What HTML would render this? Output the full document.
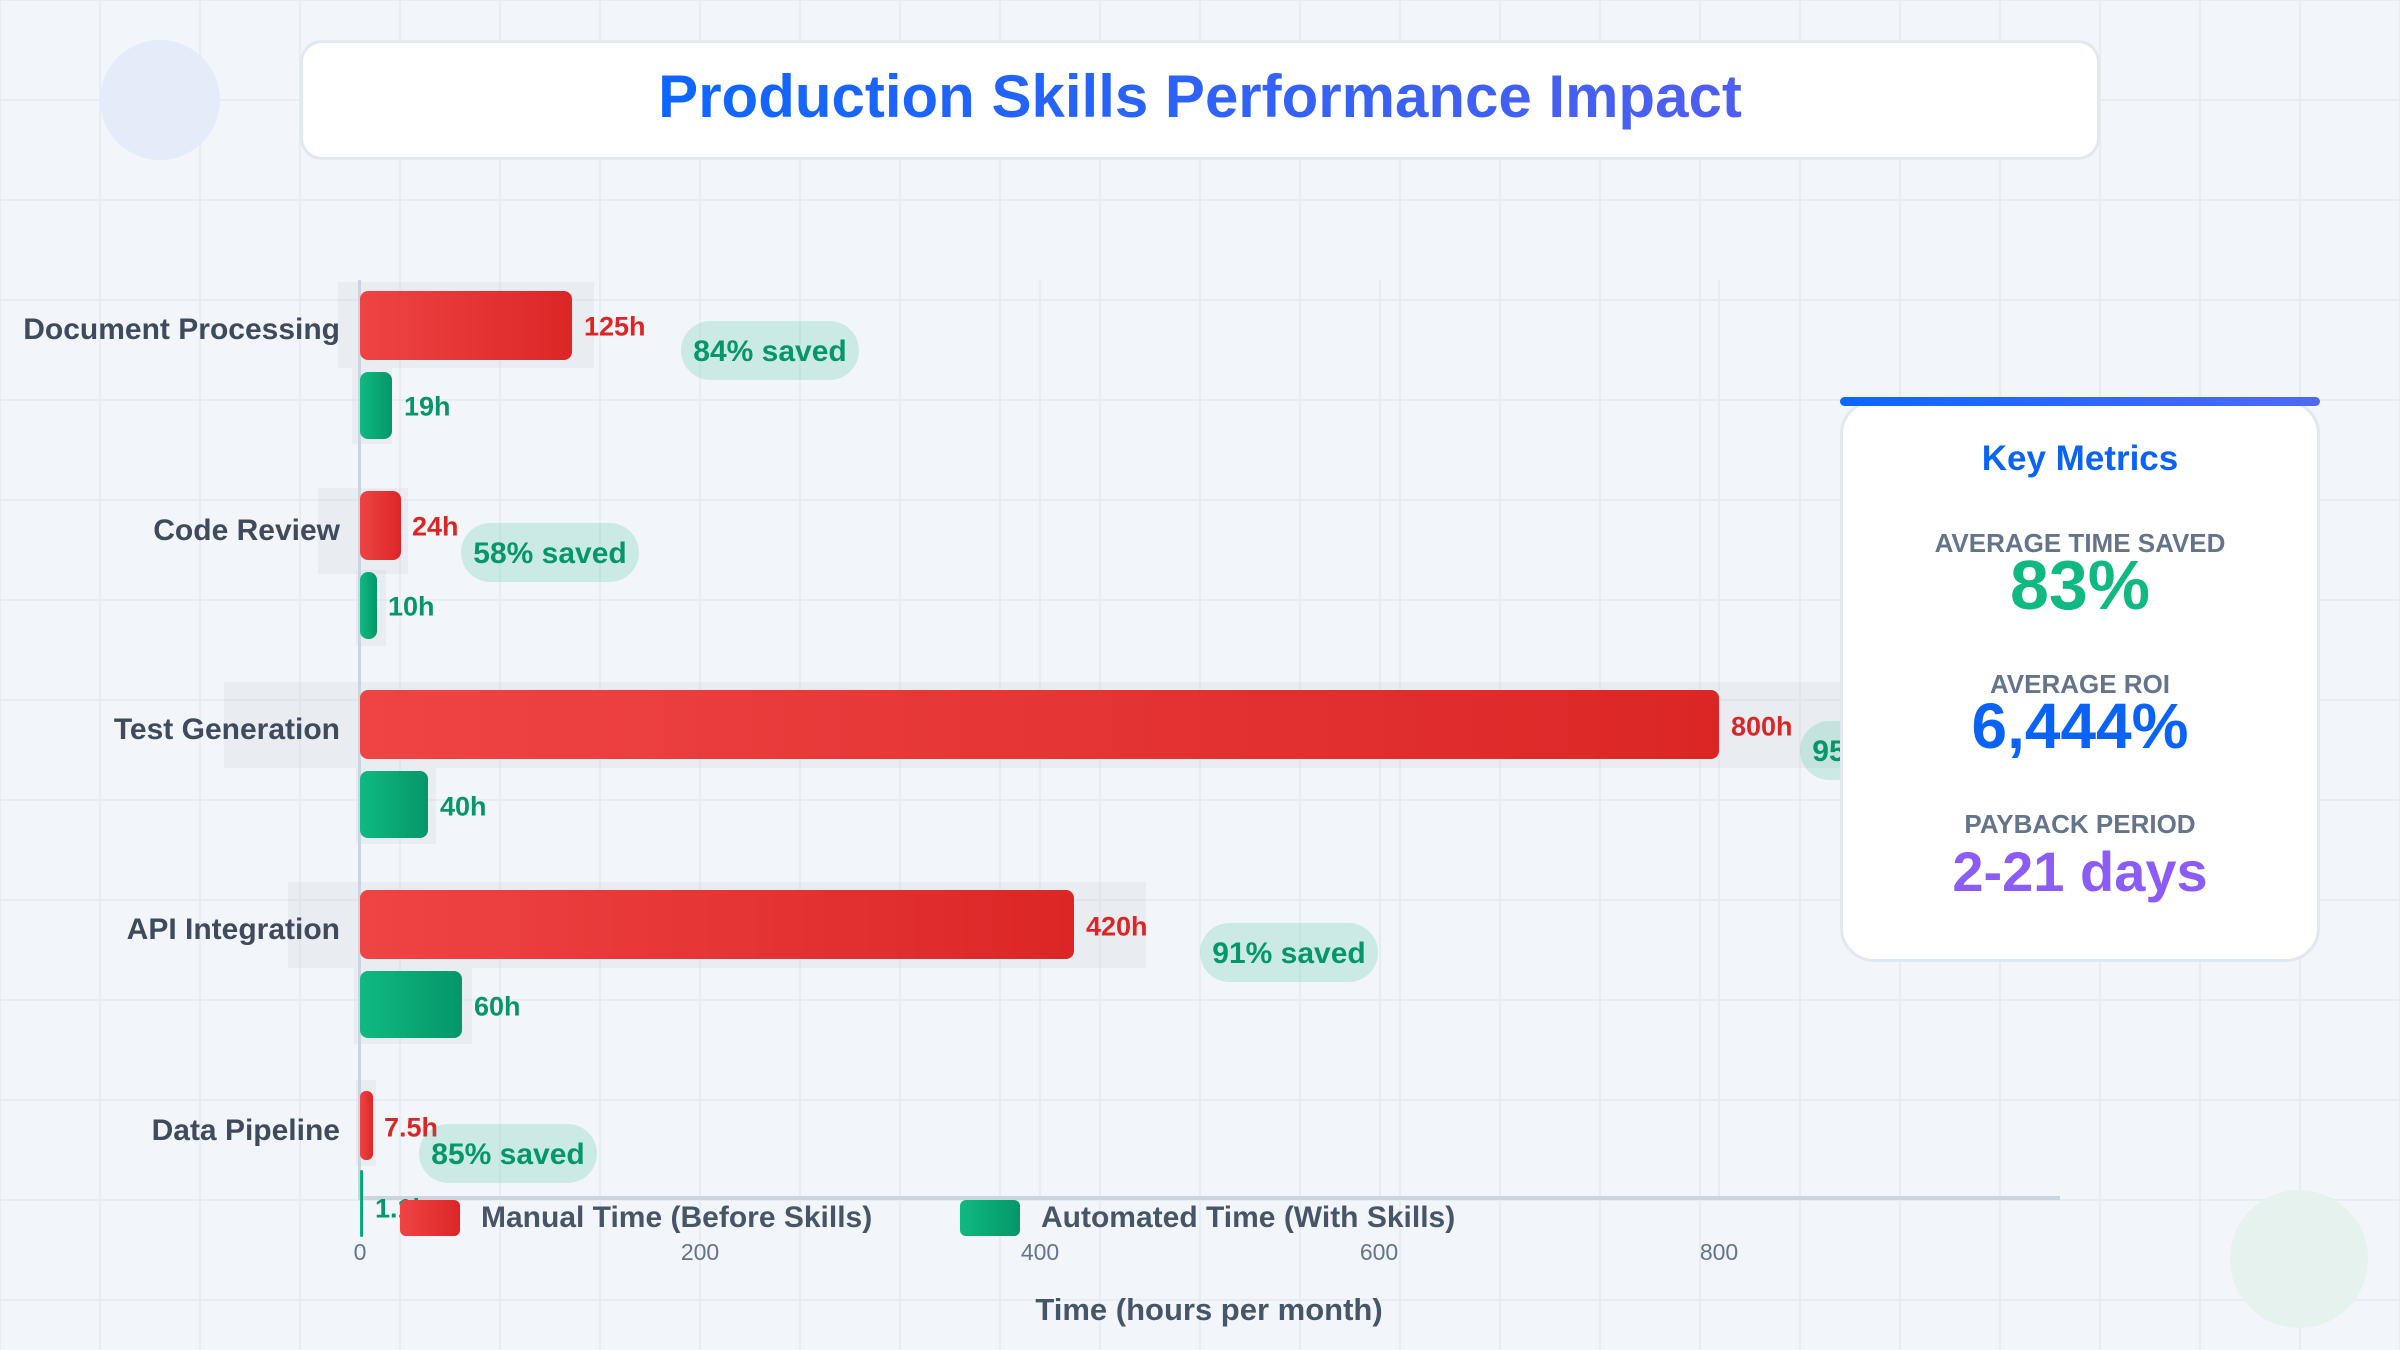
<!DOCTYPE html>
<html><head><meta charset="utf-8"><style>
*{margin:0;padding:0;box-sizing:border-box}
body{width:2400px;height:1350px;position:relative;overflow:hidden;font-family:"Liberation Sans",Arial,sans-serif;font-weight:bold;
background-color:#f2f5f9;
background-image:linear-gradient(#e8ecf3 2px,transparent 2px),linear-gradient(90deg,#e8ecf3 2px,transparent 2px);
background-size:100px 100px;background-position:-1px -1px}
.a{position:absolute}
.circ{border-radius:50%}
.title{left:300px;top:40px;width:1800px;height:120px;background:#fff;border:3px solid #e2e8f0;border-radius:22px;text-align:center;line-height:108px;font-size:60px;color:#1a63ff;
background-clip:padding-box}
.title span{background:linear-gradient(90deg,#0d66ff,#4f5ff0);-webkit-background-clip:text;color:transparent}
.grid{width:2px;background:#e8ecf2;top:280px;height:918px}
.lab{right:2060px;font-size:30px;color:#3f4a5c;white-space:nowrap;transform:translateY(-50%)}
.band{background:rgba(200,205,212,0.22)}
.m{background:linear-gradient(90deg,#ef4444,#dc2626);border-radius:8px}
.g{background:linear-gradient(90deg,#10b981,#059669);border-radius:8px}
.vm{font-size:27px;color:#dc2626;transform:translateY(-50%);white-space:nowrap}
.vg{font-size:27px;color:#059669;transform:translateY(-50%);white-space:nowrap}
.pill{height:59px;width:178px;border-radius:30px;background:rgba(16,185,129,0.17);color:#059669;font-size:30px;text-align:center;line-height:61px;white-space:nowrap}
.tick{top:1239px;font-size:23px;color:#64748b;font-weight:normal;transform:translateX(-50%)}
.card{left:1840px;top:400px;width:480px;height:562px;background:#fff;border:3px solid #e2e8f0;border-radius:34px;text-align:center}
.ml{font-size:26px;color:#64748b;position:absolute;width:100%;left:0}
</style></head><body>
<div class="a circ" style="left:100px;top:40px;width:120px;height:120px;background:#e4ecfa"></div>
<div class="a circ" style="left:2230px;top:1190px;width:138px;height:138px;background:#e5f2ee"></div>
<div class="a title"><span>Production Skills Performance Impact</span></div>

<div class="a grid" style="left:1039px"></div>
<div class="a grid" style="left:1379px"></div>
<div class="a grid" style="left:1718px"></div>

<!-- bands -->
<div class="a band" style="left:338px;top:282px;width:256px;height:86px"></div>
<div class="a band" style="left:352px;top:368px;width:40px;height:76px"></div>
<div class="a band" style="left:318px;top:488px;width:90px;height:86px"></div>
<div class="a band" style="left:356px;top:570px;width:30px;height:76px"></div>
<div class="a band" style="left:224px;top:682px;width:1616px;height:86px"></div>
<div class="a band" style="left:356px;top:768px;width:80px;height:76px"></div>
<div class="a band" style="left:288px;top:882px;width:858px;height:86px"></div>
<div class="a band" style="left:354px;top:968px;width:118px;height:76px"></div>
<div class="a band" style="left:356px;top:1080px;width:20px;height:86px"></div>

<!-- axis -->
<div class="a" style="left:358px;top:280px;width:3px;height:920px;background:#cbd5e1"></div>
<div class="a" style="left:358px;top:1196px;width:1702px;height:4px;background:#cbd5e1"></div>

<div class="a lab" style="top:330px">Document Processing</div>
<div class="a m" style="left:360px;top:291px;width:212px;height:69px"></div>
<div class="a vm" style="left:584px;top:327px">125h</div>
<div class="a g" style="left:360px;top:372px;width:32px;height:67px"></div>
<div class="a vg" style="left:404px;top:407px">19h</div>
<div class="a pill" style="left:681px;top:321px">84% saved</div>

<div class="a lab" style="top:531px">Code Review</div>
<div class="a m" style="left:360px;top:491px;width:41px;height:69px"></div>
<div class="a vm" style="left:412px;top:527px">24h</div>
<div class="a g" style="left:360px;top:572px;width:17px;height:67px"></div>
<div class="a vg" style="left:388px;top:607px">10h</div>
<div class="a pill" style="left:461px;top:523px">58% saved</div>

<div class="a lab" style="top:730px">Test Generation</div>
<div class="a m" style="left:360px;top:690px;width:1359px;height:69px"></div>
<div class="a vm" style="left:1731px;top:727px">800h</div>
<div class="a g" style="left:360px;top:771px;width:68px;height:67px"></div>
<div class="a vg" style="left:440px;top:807px">40h</div>
<div class="a pill" style="left:1800px;top:721px">95% saved</div>

<div class="a lab" style="top:930px">API Integration</div>
<div class="a m" style="left:360px;top:890px;width:714px;height:69px"></div>
<div class="a vm" style="left:1086px;top:927px">420h</div>
<div class="a g" style="left:360px;top:971px;width:102px;height:67px"></div>
<div class="a vg" style="left:474px;top:1007px">60h</div>
<div class="a pill" style="left:1200px;top:923px">91% saved</div>

<div class="a lab" style="top:1131px">Data Pipeline</div>
<div class="a m" style="left:360px;top:1091px;width:13px;height:69px;border-radius:6px"></div>
<div class="a vm" style="left:384px;top:1128px">7.5h</div>
<div class="a g" style="left:360px;top:1170px;width:3px;height:67px;border-radius:2px"></div>
<div class="a vg" style="left:375px;top:1209px">1.1h</div>
<div class="a pill" style="left:419px;top:1124px">85% saved</div>

<!-- legend -->
<div class="a m" style="left:400px;top:1200px;width:60px;height:36px;border-radius:6px"></div>
<div class="a" style="left:481px;top:1201px;font-size:30px;color:#475569">Manual Time (Before Skills)</div>
<div class="a g" style="left:960px;top:1200px;width:60px;height:36px;border-radius:6px"></div>
<div class="a" style="left:1041px;top:1201px;font-size:30px;color:#475569">Automated Time (With Skills)</div>

<div class="a tick" style="left:360px">0</div>
<div class="a tick" style="left:700px">200</div>
<div class="a tick" style="left:1040px">400</div>
<div class="a tick" style="left:1379px">600</div>
<div class="a tick" style="left:1719px">800</div>
<div class="a" style="left:1209px;top:1292px;transform:translateX(-50%);font-size:31px;color:#475569;white-space:nowrap">Time (hours per month)</div>

<div class="a card">
<div class="ml" style="top:36px;font-size:35px;color:#0b63f6">Key Metrics</div>
<div class="ml" style="top:125px">AVERAGE TIME SAVED</div>
<div class="ml" style="top:142px;font-size:70px;color:#10b981">83%</div>
<div class="ml" style="top:266px">AVERAGE ROI</div>
<div class="ml" style="top:286px;font-size:64px;color:#0b63f6">6,444%</div>
<div class="ml" style="top:406px">PAYBACK PERIOD</div>
<div class="ml" style="top:436px;font-size:56px;color:#8b5cf6">2-21 days</div>
</div>
<div class="a" style="left:1840px;top:397px;width:480px;height:9px;border-radius:5px;background:linear-gradient(90deg,#0d66ff,#4f6af0)"></div>
</body></html>
